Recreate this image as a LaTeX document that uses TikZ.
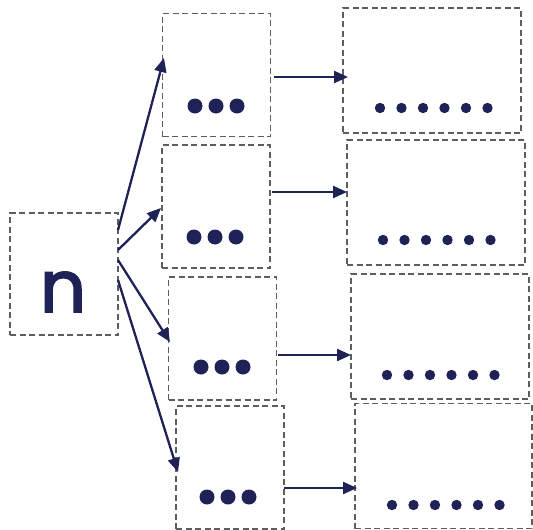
\documentclass[tikz,border=0pt]{standalone}
\usepackage{fontspec}
\newfontfamily\nfont[FakeBold=2.5]{Poppins}
\usetikzlibrary{arrows.meta}
\definecolor{navy}{HTML}{1E2257}
\definecolor{dashgray}{HTML}{5A5F60}
\begin{document}
\begin{tikzpicture}[x=1pt,y=-1pt,
  box/.style={draw=dashgray,line width=1.9pt,dash pattern=on 6pt off 3.5pt,rectangle,inner sep=0pt},
  mbox/.style={box,minimum width=108pt,minimum height=123pt},
  rbox/.style={box,minimum width=178pt,minimum height=125pt},
  link/.style={draw=navy,line width=2.3pt,-{Triangle[length=14pt,width=12pt]}},
  bigdot/.style={fill=navy},
]
\useasboundingbox (0,0) rectangle (533,530);
\node[box,minimum width=108pt,minimum height=122pt] (n) at (64,274) {};
\node[font=\nfont\fontsize{72}{72}\selectfont,text=navy,inner sep=0pt] (nt) at (63,292) {n};
\node[mbox] (m1) at (216.5,75) {};
\node[mbox] (m2) at (216,206.5) {};
\node[mbox] (m3) at (222.5,338.5) {};
\node[mbox] (m4) at (230,467.5) {};
\node[rbox] (r1) at (432,70.5) {};
\node[rbox] (r2) at (436,202.5) {};
\node[rbox] (r3) at (440,336.5) {};
\node[rbox,minimum width=177pt] (r4) at (443.5,466) {};
% arrows from n
\coordinate (s1) at (118,230);
\coordinate (s2) at (118,250);
\coordinate (s3) at (118,260);
\coordinate (s4) at (118,280);
\coordinate (e1) at (164,58);
\coordinate (e2) at (161,208);
\coordinate (e3) at (170,342);
\coordinate (e4) at (178,472);
\draw[link] (s1) -- (e1);
\draw[link] (s2) -- (e2);
\draw[link] (s3) -- (e3);
\draw[link] (s4) -- (e4);
% horizontal arrows
\coordinate (h1a) at (274,77); \coordinate (h1b) at (348,77);
\coordinate (h2a) at (272,192); \coordinate (h2b) at (347,192);
\coordinate (h3a) at (278,355); \coordinate (h3b) at (351,355);
\coordinate (h4a) at (284,488); \coordinate (h4b) at (357,488);
\draw[link] (h1a) -- (h1b);
\draw[link] (h2a) -- (h2b);
\draw[link] (h3a) -- (h3b);
\draw[link] (h4a) -- (h4b);
% big dots
\foreach \x/\y in {195/106, 194/237, 201/367, 207/497}{
  \foreach \i in {0,1,2}{
    \fill[bigdot] (\x+\i*21,\y) circle (7.5pt);
  }
}
% small dots
\foreach \x/\y in {380/108, 383/240, 387/375, 392/505}{
  \foreach \i in {0,...,5}{
    \fill[bigdot] (\x+\i*21.5,\y) circle (5.2pt);
  }
}
\end{tikzpicture}
\end{document}
